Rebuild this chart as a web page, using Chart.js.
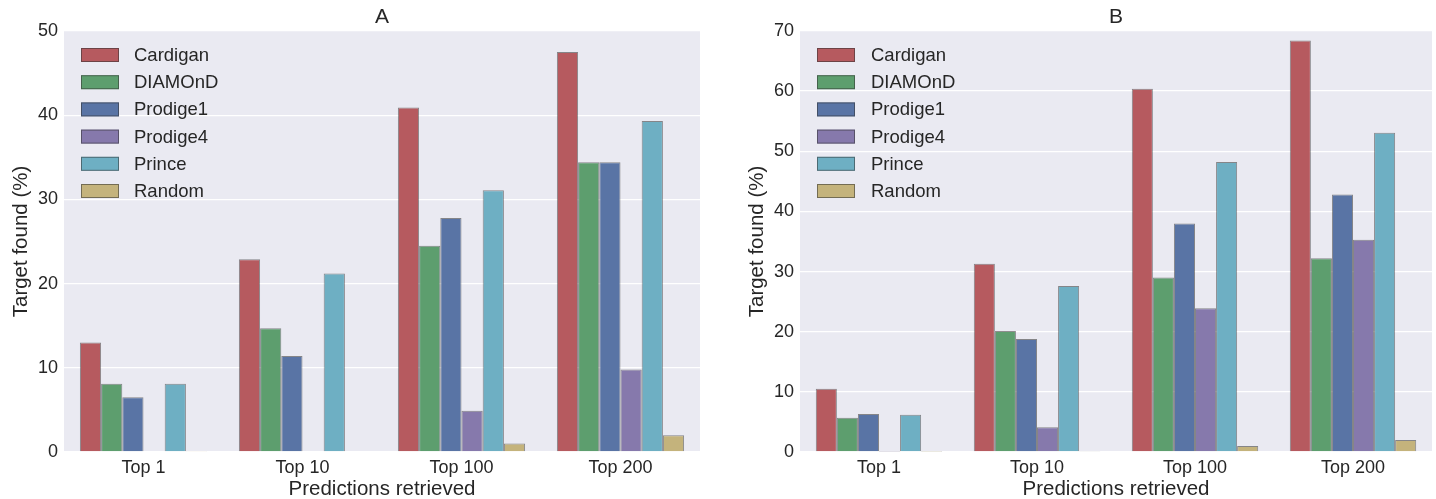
<!DOCTYPE html>
<html>
<head>
<meta charset="utf-8">
<script src="https://cdn.jsdelivr.net/npm/chart.js@4/dist/chart.umd.min.js"></script>
<style>
  body { margin: 0; background: #fff; }
  .box { position: absolute; top: 0; height: 499px; }
  #boxA { left: 0; width: 718px; }
  #boxB { left: 718px; width: 718px; }
</style>
</head>
<body>
<div class="box" id="boxA"><canvas id="chartA"></canvas></div>
<div class="box" id="boxB"><canvas id="chartB"></canvas></div>
<script>
// categories and series
const categories = ["Top 1", "Top 10", "Top 100", "Top 200"];
const methods = ["Cardigan", "DIAMOnD", "Prodige1", "Prodige4", "Prince", "Random"];
const colors = ["#b65a5f", "#5d9e6e", "#5974a5", "#8679ac", "#6eafc3", "#c4b37c"];

// panel A values (%)
const cardiganA = [13.0, 22.9, 40.9, 47.5];
const diamondA = [8.1, 14.7, 24.5, 34.4];
const prodige1A = [6.5, 11.4, 27.8, 34.4];
const prodige4A = [0, 0, 4.9, 9.8];
const princeA = [8.1, 21.2, 31.1, 39.3];
const randomA = [0.05, 0.1, 1.0, 2.0];
const ticksA = [0, 10, 20, 30, 40, 50];

// panel B values (%)
const cardiganB = [10.5, 31.3, 60.4, 68.4];
const diamondB = [5.7, 20.1, 29.0, 32.2];
const prodige1B = [6.3, 18.8, 38.0, 42.8];
const prodige4B = [0.05, 4.1, 23.9, 35.3];
const princeB = [6.2, 27.6, 48.2, 53.1];
const randomB = [0.05, 0.1, 1.0, 2.0];
const ticksB = [0, 10, 20, 30, 40, 50, 60, 70];

const textColor = "#262626";
const fontFam = "'Liberation Sans', Arial, sans-serif";

function makeSets(list) {
  return list.map(function (vals, i) {
    return {
      label: methods[i],
      data: vals,
      backgroundColor: colors[i],
      borderColor: "rgba(50,50,50,0.55)",
      borderWidth: 1,
      borderSkipped: "start",
      categoryPercentage: 0.8,
      barPercentage: 1.0,
    };
  });
}

// background, panel title and legend inside the plot
const panelPlugin = {
  id: "panel",
  beforeDraw(chart) {
    const a = chart.chartArea;
    const ctx = chart.ctx;
    ctx.save();
    ctx.fillStyle = "#eaeaf2";
    ctx.fillRect(a.left, a.top, a.right - a.left, a.bottom - a.top);
    ctx.restore();
  },
  afterDraw(chart, args, opts) {
    const a = chart.chartArea;
    const ctx = chart.ctx;
    ctx.save();
    ctx.fillStyle = textColor;
    ctx.font = "21px " + fontFam;
    ctx.textAlign = "center";
    ctx.textBaseline = "middle";
    ctx.fillText(opts.title, (a.left + a.right) / 2, 17);

    ctx.font = "18.5px " + fontFam;
    ctx.textAlign = "left";
    chart.data.datasets.forEach(function (ds, i) {
      const y = a.top + 17 + i * 27.2;
      ctx.fillStyle = ds.backgroundColor;
      ctx.fillRect(a.left + 17, y, 38, 14);
      ctx.strokeStyle = "rgba(50,50,50,0.55)";
      ctx.lineWidth = 1;
      ctx.strokeRect(a.left + 17.5, y + 0.5, 37, 13);
      ctx.fillStyle = textColor;
      ctx.fillText(ds.label, a.left + opts.textX, y + 8);
    });
    ctx.restore();
  },
};

function makeChart(id, sets, maxY, stepY, axisW, titlePad, padRight, title, textX) {
  return new Chart(document.getElementById(id), {
    type: "bar",
    data: { labels: categories, datasets: makeSets(sets) },
    plugins: [panelPlugin],
    options: {
      responsive: true,
      maintainAspectRatio: false,
      animation: false,
      layout: { padding: { left: 0, right: padRight, top: 31, bottom: 0 } },
      plugins: {
        legend: { display: false },
        tooltip: { enabled: false },
        panel: { title: title, textX: textX },
      },
      scales: {
        x: {
          grid: { display: false, drawTicks: false },
          border: { display: false },
          ticks: { color: textColor, font: { family: fontFam, size: 18 }, padding: 5 },
          title: {
            display: true,
            text: "Predictions retrieved",
            color: textColor,
            font: { family: fontFam, size: 20.5 },
            padding: { top: 0, bottom: -3 },
          },
          afterFit(scale) { scale.height = 47; },
        },
        y: {
          min: 0,
          max: maxY,
          grid: { color: "#ffffff", lineWidth: 1.3, drawTicks: false },
          border: { display: false },
          ticks: {
            stepSize: stepY,
            color: textColor,
            font: { family: fontFam, size: 18 },
            padding: 6,
          },
          title: {
            display: true,
            text: "Target found (%)",
            color: textColor,
            font: { family: fontFam, size: 20.5 },
            padding: { top: titlePad, bottom: 0 },
          },
          afterFit(scale) { scale.width = axisW; },
        },
      },
    },
  });
}

makeChart("chartA", [cardiganA, diamondA, prodige1A, prodige4A, princeA, randomA],
  ticksA[ticksA.length - 1], ticksA[1] - ticksA[0], 64, 9, 18, "A", 70);
makeChart("chartB", [cardiganB, diamondB, prodige1B, prodige4B, princeB, randomB],
  ticksB[ticksB.length - 1], ticksB[1] - ticksB[0], 82, 27, 4, "B", 71);
</script>
</body>
</html>
